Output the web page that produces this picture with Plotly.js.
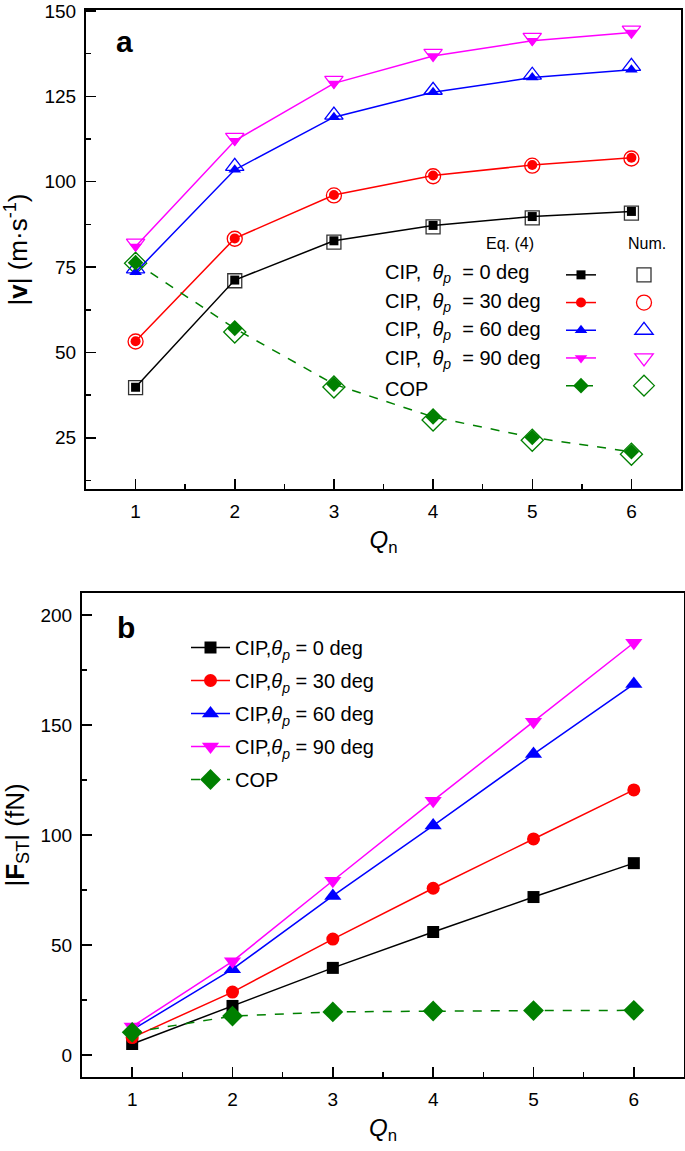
<!DOCTYPE html>
<html><head><meta charset="utf-8">
<script src="https://cdn.plot.ly/plotly-3.0.1.min.js"></script>
<style>html,body{margin:0;padding:0;background:#fff}#chart{width:685px;height:1151px}</style>
</head><body><div id="chart"></div>
<script>
// ---------- data ----------
const Qn = [1, 2, 3, 4, 5, 6];
const topNames = ['CIP,&nbsp; <i>θ</i><sub><i>p</i></sub>&nbsp; = 0 deg', 'CIP,&nbsp; <i>θ</i><sub><i>p</i></sub>&nbsp; = 30 deg',
  'CIP,&nbsp; <i>θ</i><sub><i>p</i></sub>&nbsp; = 60 deg', 'CIP,&nbsp; <i>θ</i><sub><i>p</i></sub>&nbsp; = 90 deg', 'COP'];
const botNames = ['CIP,<i>θ</i><sub><i>p</i></sub> = 0 deg', 'CIP,<i>θ</i><sub><i>p</i></sub> = 30 deg',
  'CIP,<i>θ</i><sub><i>p</i></sub> = 60 deg', 'CIP,<i>θ</i><sub><i>p</i></sub> = 90 deg', 'COP'];
// |v| (m/s), Eq. (4)
const velEq0   = [39.8, 71.2, 82.7, 87.2, 89.8, 91.3];
const velEq30  = [53.3, 83.4, 96.1, 101.8, 104.9, 107.0];
const velEq60  = [73.5, 103.5, 118.9, 126.2, 130.5, 132.8];
const velEq90  = [81.0, 112.0, 128.8, 136.8, 141.3, 143.7];
const velEqCOP = [76.3, 57.0, 40.7, 31.1, 25.1, 20.9];
// |v| (m/s), numerical
const velNum0   = [39.7, 71.0, 82.3, 86.8, 89.4, 90.8];
const velNum30  = [53.2, 83.3, 96.0, 101.6, 104.7, 106.8];
const velNum60  = [74.5, 104.5, 119.5, 126.8, 131.2, 133.8];
const velNum90  = [82.0, 113.0, 129.7, 137.6, 142.3, 144.4];
const velNumCOP = [76.1, 56.0, 39.9, 30.2, 24.3, 20.2];
// |F_ST| (fN)
const force0   = [5.0, 22.3, 39.6, 55.9, 71.8, 87.2];
const force30  = [7.9, 28.6, 52.7, 75.8, 98.2, 120.5];
const force60  = [11.4, 39.0, 72.3, 104.3, 136.8, 168.6];
const force90  = [12.9, 42.6, 79.2, 115.6, 151.5, 187.4];
const forceCOP = [10.3, 17.7, 19.6, 20.0, 20.2, 20.3];

// ---------- styles ----------
const colors = ['#000000', '#ff0000', '#0000ff', '#ff00ff', '#008000'];
const symFilled = ['square', 'circle', 'triangle-up', 'triangle-down', 'diamond'];
const symOpen = ['square-open', 'circle-open', 'triangle-up-open', 'triangle-down-open', 'diamond-open'];
const sizeTopFilled = [9, 10, 11, 11, 12];
const sizeTopOpen = [14, 15, 16, 16, 17];
const sizeBot = [12, 13, 15, 15, 16];
const dashes = ['solid', 'solid', 'solid', 'solid', 'dash'];

const velEq = [velEq0, velEq30, velEq60, velEq90, velEqCOP];
const velNum = [velNum0, velNum30, velNum60, velNum90, velNumCOP];
const force = [force0, force30, force60, force90, forceCOP];

const traces = [];
// numerical (open markers) drawn first
velNum.forEach((ys, i) => traces.push({
  x: Qn, y: ys, type: 'scatter', mode: 'markers', xaxis: 'x', yaxis: 'y',
  name: '', legend: 'legend3', showlegend: true,
  marker: {symbol: symOpen[i], size: sizeTopOpen[i], color: i === 0 ? '#333333' : colors[i], line: {width: 1.3}}
}));
velEq.forEach((ys, i) => traces.push({
  x: Qn, y: ys, type: 'scatter', mode: 'lines+markers', xaxis: 'x', yaxis: 'y',
  name: '', legend: 'legend2', showlegend: true,
  line: {color: colors[i], width: 1.5, dash: dashes[i]},
  marker: {symbol: symFilled[i], size: sizeTopFilled[i], color: colors[i]}
}));
force.forEach((ys, i) => traces.push({
  x: Qn, y: ys, type: 'scatter', mode: 'lines+markers', xaxis: 'x2', yaxis: 'y2',
  name: botNames[i], legend: 'legend', legendgroup: 'g' + i, showlegend: true,
  line: {color: colors[i], width: 1.5, dash: dashes[i]},
  marker: {symbol: symFilled[i], size: sizeBot[i], color: colors[i]}
}));

const W = 685, H = 1151;
const px = v => v / W, py = v => 1 - v / H;
const font = 'Liberation Sans, Arial, sans-serif';

const xCommon = {
  range: [0.5, 6.5], tickmode: 'linear', tick0: 1, dtick: 1,
  ticks: 'inside', ticklen: 10, tickwidth: 1.5, tickcolor: '#000',
  minor: {ticks: 'inside', ticklen: 5, tickwidth: 1.5, dtick: 0.5, tick0: 0.5, tickcolor: '#000'},
  showline: true, linewidth: 2, linecolor: '#000', mirror: true,
  showgrid: false, zeroline: false, automargin: false, ticklabeloverflow: 'allow',
  tickfont: {family: font, size: 19, color: '#000'}, ticklabelstandoff: 4,
  title: {text: '<i>Q</i><sub>n</sub>', font: {family: font, size: 24, color: '#000'}, standoff: 10}
};
const yCommon = {
  ticks: 'inside', ticklen: 10, tickwidth: 1.5, tickcolor: '#000',
  showline: true, linewidth: 2, linecolor: '#000', mirror: true,
  showgrid: false, zeroline: false, automargin: false, ticklabeloverflow: 'allow',
  tickfont: {family: font, size: 19, color: '#000'}, ticklabelstandoff: 4
};

const ann = (text, x, y, size, xa, extra) => Object.assign({
  text: text, x: px(x), y: py(y), xref: 'paper', yref: 'paper', showarrow: false,
  xanchor: xa || 'center', yanchor: 'middle', font: {family: font, size: size, color: '#000'}
}, extra || {});

const layout = {
  width: W, height: H, margin: {l: 0, r: 0, t: 0, b: 0},
  paper_bgcolor: '#fff', plot_bgcolor: '#fff',
  font: {family: font, color: '#000'},
  xaxis: Object.assign({}, xCommon, {domain: [px(86), px(681)], anchor: 'y'}),
  yaxis: Object.assign({}, yCommon, {
    domain: [py(489), py(10)], anchor: 'x', range: [10, 150.3], tickmode: 'linear', tick0: 0, dtick: 25,
    minor: {ticks: 'inside', ticklen: 5, tickwidth: 1.5, dtick: 12.5, tick0: 0, tickcolor: '#000'},
    title: {text: '|<b>v</b>| (m·s<sup>-1</sup>)', font: {family: font, size: 26, color: '#000'}, standoff: 10}
  }),
  xaxis2: Object.assign({}, xCommon, {domain: [px(82), px(684)], anchor: 'y2'}),
  yaxis2: Object.assign({}, yCommon, {
    domain: [py(1077), py(593)], anchor: 'x2', range: [-10, 210], tickmode: 'linear', tick0: 0, dtick: 50,
    minor: {ticks: 'inside', ticklen: 5, tickwidth: 1.5, dtick: 25, tick0: 0, tickcolor: '#000'},
    title: {text: '|<b>F</b><sub>ST</sub>| (fN)', font: {family: font, size: 26, color: '#000'}, standoff: 10}
  }),
  legend: {x: px(186), y: py(628), xanchor: 'left', yanchor: 'top', bgcolor: 'rgba(0,0,0,0)',
    font: {family: font, size: 20, color: '#000'}, itemwidth: 39, tracegroupgap: 4},
  legend2: {x: px(561), y: py(256), xanchor: 'left', yanchor: 'top', bgcolor: 'rgba(0,0,0,0)',
    font: {family: font, size: 19, color: '#000'}, itemwidth: 30},
  legend3: {x: px(624), y: py(256), xanchor: 'left', yanchor: 'top', bgcolor: 'rgba(0,0,0,0)',
    font: {family: font, size: 19, color: '#000'}, itemwidth: 30},
  annotations: [
    ann('<b>a</b>', 124, 42, 30),
    ann('<b>b</b>', 126, 627, 30),
    ann('Eq. (4)', 510, 243, 16),
    ann('Num.', 647, 243, 16)
  ].concat(topNames.map((t, i) => ann(t, 383, 273.3 + i * 28.8, 20, 'left')))
};

Plotly.newPlot('chart', traces, layout, {staticPlot: true, displayModeBar: false});
</script></body></html>
